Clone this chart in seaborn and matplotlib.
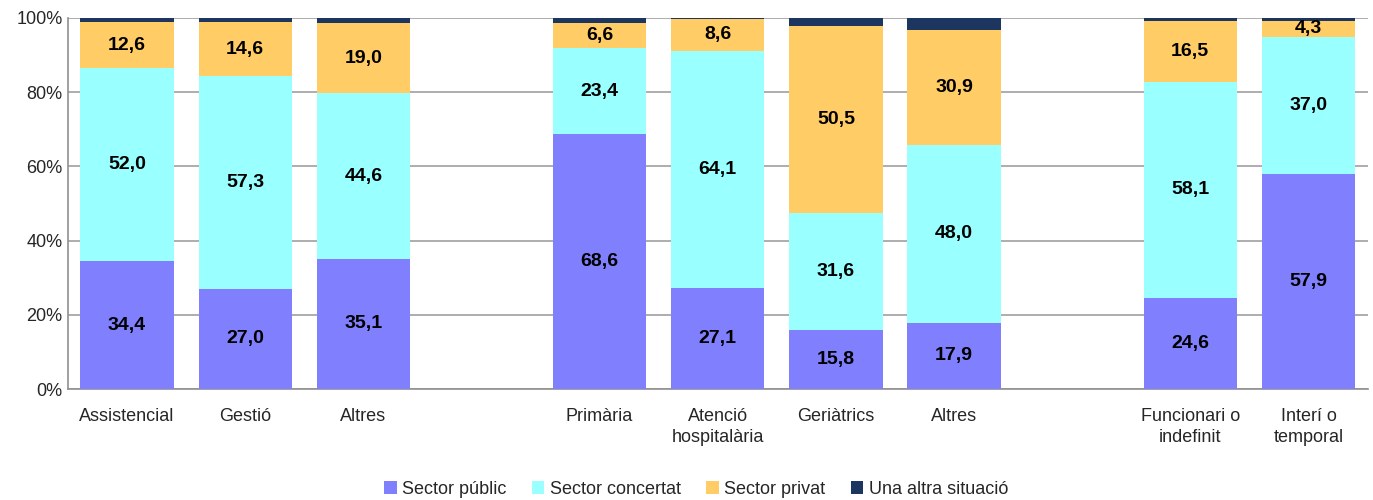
import matplotlib
matplotlib.use("Agg")
import matplotlib.pyplot as plt
import seaborn as sns
import pandas as pd
import numpy as np
from matplotlib.patches import Patch

# slots (gaps included so the groups stay apart)
slot_keys = ["assist", "gestio", "altres1", "gap1", "primaria", "hosp", "geri", "altres2", "gap2", "func", "interi"]
slot_labels = ["Assistencial", "Gestió", "Altres", "", "Primària", "Atenció\nhospitalària",
               "Geriàtrics", "Altres", "", "Funcionari o\nindefinit", "Interí o\ntemporal"]
cats = ["assist", "gestio", "altres1", "primaria", "hosp", "geri", "altres2", "func", "interi"]

publico = [34.4, 27.0, 35.1, 68.6, 27.1, 15.8, 17.9, 24.6, 57.9]
concertat = [52.0, 57.3, 44.6, 23.4, 64.1, 31.6, 48.0, 58.1, 37.0]
privat = [12.6, 14.6, 19.0, 6.6, 8.6, 50.5, 30.9, 16.5, 4.3]
altra = [1.0, 1.1, 1.3, 1.4, 0.2, 2.1, 3.2, 0.8, 0.8]

series = ["Sector públic", "Sector concertat", "Sector privat", "Una altra situació"]
colors = ["#8080FF", "#99FFFF", "#FFCC66", "#1C3660"]

sns.set_style("white")
plt.rcParams['font.family'] = ['Liberation Sans Narrow', 'Liberation Sans', 'DejaVu Sans']

fig = plt.figure(figsize=(13.73, 5.0), dpi=100)
ax = fig.add_axes([0.0495, 0.222, 0.9465, 0.742])

bottom = np.zeros(len(cats))
for name, vals, col in zip(series, [publico, concertat, privat, altra], colors):
    df = pd.DataFrame({"cat": cats, "val": vals})
    sns.barplot(data=df, x="cat", y="val", order=slot_keys, color=col, width=0.79,
                bottom=bottom, saturation=1, linewidth=0, ax=ax, zorder=3)
    if name != "Una altra situació":
        for c, v, b in zip(cats, vals, bottom):
            ax.text(slot_keys.index(c), b + v / 2, f"{v:.1f}".replace(".", ","),
                    ha="center", va="center", fontsize=14, fontweight="bold", color="black", zorder=4)
    bottom = bottom + np.array(vals)

ax.set_ylim(0, 100)
ax.set_xlim(-0.5, len(slot_keys) - 0.5)
ax.set_yticks(range(0, 101, 20))
ax.set_yticklabels([f"{t}%" for t in range(0, 101, 20)], fontsize=13)
ax.yaxis.grid(True, color="#A0A0A0", linewidth=1.2, zorder=0)
ax.set_axisbelow(True)
ax.set_xticks(range(len(slot_keys)))
ax.set_xticklabels(slot_labels, fontsize=13, linespacing=1.25)
ax.set_xticks(np.arange(-0.5, len(slot_keys)), minor=True)
ax.tick_params(axis="x", which="major", length=0, pad=14)
ax.tick_params(axis="x", which="minor", length=6, color="#909090", width=1.2)
ax.tick_params(axis="y", length=0, pad=4)
ax.set_xlabel("")
ax.set_ylabel("")
for s in ["top", "right"]:
    ax.spines[s].set_visible(False)
for s in ["left", "bottom"]:
    ax.spines[s].set_color("#909090")
    ax.spines[s].set_linewidth(1.2)

handles = [Patch(facecolor=c, edgecolor="none", label=n) for n, c in zip(series, colors)]
fig.legend(handles=handles, loc="lower center", bbox_to_anchor=(0.507, -0.028), ncol=4, frameon=False,
           fontsize=13, handlelength=0.7, handleheight=0.7, handletextpad=0.3, columnspacing=1.4)

fig.savefig("out.png", dpi=100)
